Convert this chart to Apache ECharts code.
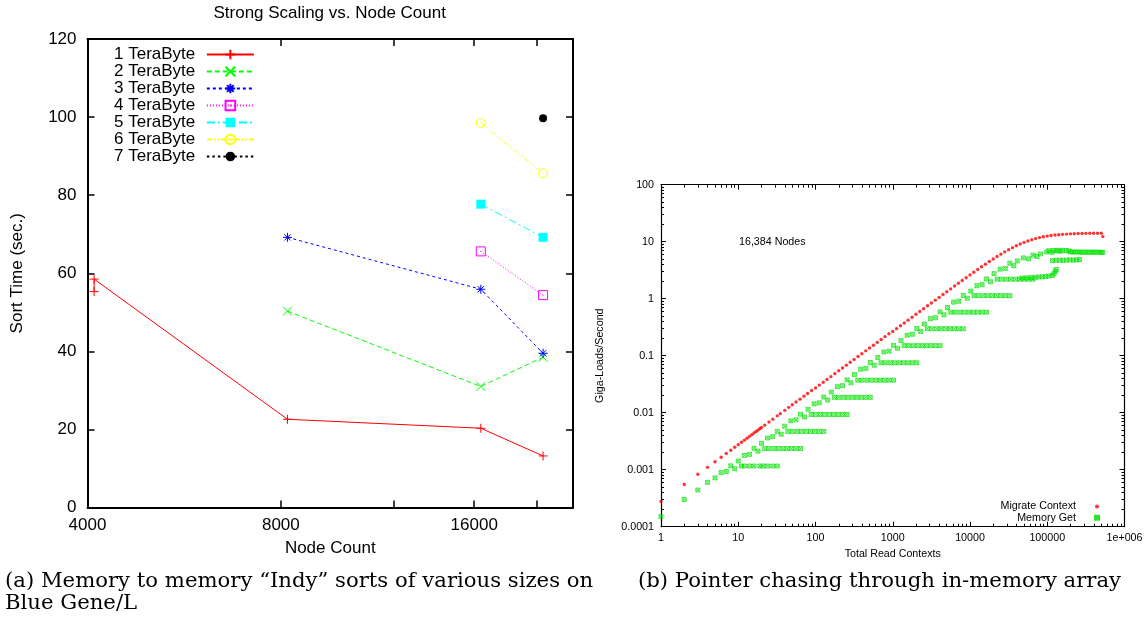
<!DOCTYPE html>
<html>
<head>
<meta charset="utf-8">
<script src="https://cdn.jsdelivr.net/npm/echarts@6/dist/echarts.min.js"></script>
<style>
html, body { margin: 0; padding: 0; background: #fff; }
#main { width: 1145px; height: 621px; }
</style>
</head>
<body>
<div id="main"></div>
<script>
// (a) sort time per data size, node counts on a base-2 scale
var sizeNames = ["1 TeraByte", "2 TeraByte", "3 TeraByte", "4 TeraByte", "5 TeraByte", "6 TeraByte", "7 TeraByte"];
var runNodes = [
    [4096, 4096, 8192, 16384, 20480],
    [8192, 16384, 20480],
    [8192, 16384, 20480],
    [16384, 20480],
    [16384, 20480],
    [16384, 20480],
    [20480]
];
var runTimes = [
    [55.3, 58.5, 22.6, 20.3, 13.2],
    [50.3, 31.0, 38.5],
    [69.2, 55.9, 39.5],
    [65.6, 54.4],
    [77.7, 69.2],
    [98.5, 85.6],
    [99.7]
];
var nodeMin = 4000, nodeMax = 22800;
var nodeTicks = [8000, 12000, 16000, 20000];
var nodeLabels = [4000, 8000, 16000];

// (b) pointer chasing, 16,384 nodes
var migrateContext = [
    [1, 0.000276], [2, 0.00055], [3, 0.00083], [4, 0.0011], [5, 0.00138], [6, 0.00165], [7, 0.00193], [8, 0.0022], [9, 0.00248], [10, 0.00275],
    [11, 0.00303], [12, 0.0033], [13, 0.00358], [14, 0.00385], [15, 0.00413], [16, 0.0044], [17, 0.00468], [18, 0.00495], [19, 0.00523], [20, 0.0055],
    [22, 0.00605], [25, 0.00688], [28, 0.0077], [32, 0.0088], [35, 0.00963], [40, 0.011], [45, 0.0124], [50, 0.01375], [56, 0.0154], [63, 0.0173],
    [71, 0.0195], [79, 0.0217], [89, 0.0245],
    [100, 0.0272], [112, 0.0305], [126, 0.0343], [141, 0.0384], [158, 0.043], [178, 0.0484], [200, 0.0544], [224, 0.0609], [251, 0.0683], [282, 0.0767],
    [316, 0.086], [355, 0.0966], [398, 0.1083], [447, 0.1216], [501, 0.1363], [562, 0.1529], [631, 0.1716], [708, 0.1926], [794, 0.216], [891, 0.2424],
    [1000, 0.267], [1120, 0.298], [1260, 0.335], [1410, 0.375], [1580, 0.42], [1780, 0.473], [2000, 0.532], [2240, 0.596], [2510, 0.668], [2820, 0.75],
    [3160, 0.84], [3550, 0.944], [3980, 1.054], [4470, 1.184], [5010, 1.327], [5620, 1.487], [6310, 1.666], [7080, 1.867], [7940, 2.089], [8910, 2.338],
    [10000, 2.614], [11200, 2.915], [12600, 3.262], [14100, 3.627], [15800, 4.03], [17800, 4.492], [20000, 4.982], [22400, 5.494], [25100, 6.043], [28200, 6.632],
    [31600, 7.234], [35500, 7.863], [39800, 8.487], [44700, 9.116], [50100, 9.719], [56200, 10.3], [63100, 10.84], [70800, 11.34], [79400, 11.79], [89100, 12.18],
    [100000, 12.53], [112000, 12.82], [126000, 13.08], [141000, 13.28], [158000, 13.45], [178000, 13.6], [200000, 13.72], [224000, 13.81], [251000, 13.89], [282000, 13.95],
    [316000, 14.0], [355000, 14.04], [398000, 14.07], [447000, 14.1], [501000, 14.1], [524288, 12.3]
];
var memoryGet = [
    [1, 0.00015], [2, 0.0003], [3, 0.00044], [4, 0.0006],
    [5, 0.00072], [6, 0.00089], [7, 0.00093], [8, 0.00117], [9, 0.00104],
    [11, 0.00116], [12, 0.00116], [14, 0.00116], [16, 0.00116], [19, 0.00116], [21, 0.00116], [24, 0.00116], [28, 0.00116], [32, 0.00116],
    [10, 0.00142], [12, 0.00178], [14, 0.00186], [16, 0.00237], [18, 0.00212],
    [22, 0.00235], [25, 0.00235], [29, 0.00235], [33, 0.00235], [38, 0.00235], [43, 0.00235], [49, 0.00235], [56, 0.00235], [64, 0.00235],
    [20, 0.0029], [24, 0.0036], [28, 0.0038], [32, 0.0047], [36, 0.0042],
    [44, 0.0047], [50, 0.0047], [58, 0.0047], [66, 0.0047], [76, 0.0047], [86, 0.0047], [98, 0.0047], [112, 0.0047], [128, 0.0047],
    [40, 0.0058], [48, 0.0072], [56, 0.0075], [64, 0.0094], [72, 0.0084],
    [88, 0.0093], [100, 0.0093], [116, 0.0093], [132, 0.0093], [152, 0.0093], [172, 0.0093], [196, 0.0093], [224, 0.0093], [256, 0.0093],
    [80, 0.0115], [96, 0.0143], [112, 0.0149], [128, 0.0188], [144, 0.0167],
    [176, 0.0186], [200, 0.0186], [232, 0.0186], [264, 0.0186], [304, 0.0186], [344, 0.0186], [392, 0.0186], [448, 0.0186], [512, 0.0186],
    [160, 0.023], [192, 0.0286], [224, 0.0298], [256, 0.0376], [288, 0.0335],
    [352, 0.0372], [400, 0.0372], [464, 0.0372], [528, 0.0372], [608, 0.0372], [688, 0.0372], [784, 0.0372], [896, 0.0372], [1024, 0.0372],
    [320, 0.0466], [384, 0.058], [448, 0.06], [512, 0.076], [576, 0.068],
    [704, 0.0752], [800, 0.0752], [928, 0.0752], [1056, 0.0752], [1216, 0.0752], [1376, 0.0752], [1568, 0.0752], [1792, 0.0752], [2048, 0.0752],
    [640, 0.093], [768, 0.116], [896, 0.12], [1024, 0.152], [1152, 0.135],
    [1408, 0.15], [1600, 0.15], [1856, 0.15], [2112, 0.15], [2432, 0.15], [2752, 0.15], [3136, 0.15], [3584, 0.15], [4096, 0.15],
    [1280, 0.184], [1536, 0.229], [1792, 0.238], [2048, 0.3], [2304, 0.267],
    [2816, 0.297], [3200, 0.297], [3712, 0.297], [4224, 0.297], [4864, 0.297], [5504, 0.297], [6272, 0.297], [7168, 0.297], [8192, 0.297],
    [2560, 0.36], [3072, 0.447], [3584, 0.464], [4096, 0.586], [4608, 0.522],
    [5632, 0.58], [6400, 0.58], [7424, 0.58], [8448, 0.58], [9728, 0.58], [11008, 0.58], [12544, 0.58], [14336, 0.58], [16384, 0.58],
    [5120, 0.7], [6144, 0.87], [7168, 0.9], [8192, 1.14], [9216, 1.02],
    [11264, 1.13], [12800, 1.13], [14848, 1.13], [16896, 1.13], [19456, 1.13], [22016, 1.13], [25088, 1.13], [28672, 1.13], [32768, 1.13],
    [10240, 1.36], [12288, 1.69], [14336, 1.76], [16384, 2.22], [18432, 1.98],
    [22528, 2.2], [25600, 2.2], [29696, 2.2], [33792, 2.2], [38912, 2.2], [44032, 2.2], [50176, 2.2], [57344, 2.2], [65536, 2.2],
    [20480, 2.75], [24576, 3.3], [28672, 3.4], [32768, 4.2], [36864, 3.8],
    [47000, 2.3], [54000, 2.32], [62000, 2.35], [70000, 2.38], [78000, 2.4], [86000, 2.42], [95000, 2.45], [105000, 2.5], [116000, 2.55],
    [122000, 2.75], [127000, 3.0], [131072, 3.25],
    [40960, 4.6], [49152, 5.2], [57344, 5.0], [65536, 5.8], [73728, 5.5],
    [117000, 4.65], [130000, 4.7], [145000, 4.75], [160000, 4.7], [178000, 4.75], [197000, 4.8], [218000, 4.75], [240000, 4.8], [262144, 4.85],
    [81920, 6.1], [98304, 6.6], [114688, 6.5], [131072, 6.9], [147456, 6.8],
    [105000, 6.95], [120000, 7.0], [138000, 7.05], [158000, 7.05], [175000, 7.0], [190000, 6.9],
    [200000, 6.6], [215000, 6.6], [230000, 6.6], [247000, 6.6], [265000, 6.55], [285000, 6.55], [305000, 6.55], [328000, 6.55], [352000, 6.55],
    [378000, 6.55], [405000, 6.55], [435000, 6.55], [467000, 6.55], [500000, 6.5], [524288, 6.5]
];
var minorSteps = [2, 3, 4, 5, 6, 7, 8, 9];

// styles
var sizeColors = ["#ff0000", "#00ff00", "#0000ff", "#ff00ff", "#00ffff", "#ffff00", "#000000"];
var sizeDash = ["solid", [5, 3], [3, 3], [1, 2], [8, 3, 2, 3], [5, 2, 1.5, 2, 1.5, 2], [2.5, 3]];
var sizeSymbols = [
    "path://M0,5L10,5M5,0L5,10",
    "path://M0,0L10,10M10,0L0,10",
    "path://M0,5L10,5M5,0L5,10M1.5,1.5L8.5,8.5M8.5,1.5L1.5,8.5",
    "path://M0,0L10,0L10,10L0,10ZM4.5,5L5.5,5",
    "rect",
    "path://M10,5A5,5,0,1,1,0,5A5,5,0,1,1,10,5ZM4.5,5L5.5,5",
    "circle"
];
var sizeFilled = [false, false, false, false, true, false, true];

var sans = "Liberation Sans";
var fsA = 17, fsB = 10.7;
function log2(v) { return Math.log(v) / Math.LN2; }
function minorExponents(lo, hi) {
    var out = [];
    for (var d = lo; d < hi; d++) {
        minorSteps.forEach(function (m) { out.push(d + Math.log10(m)); });
    }
    return out;
}

var myChart = echarts.init(document.getElementById("main"));

var seriesList = sizeNames.map(function (name, i) {
    return {
        name: name,
        type: "line",
        xAxisIndex: 0,
        yAxisIndex: 0,
        data: runNodes[i].map(function (n, j) { return [log2(n), runTimes[i][j]]; }),
        symbol: sizeSymbols[i],
        symbolSize: i === 6 ? 8 : 9,
        showAllSymbol: true,
        lineStyle: { color: sizeColors[i], width: 1, type: sizeDash[i] },
        itemStyle: {
            color: sizeFilled[i] ? sizeColors[i] : "rgba(0,0,0,0)",
            borderColor: sizeColors[i],
            borderWidth: sizeFilled[i] ? 0 : 1
        },
        emphasis: { disabled: true },
        z: 3
    };
});
seriesList.push({
    name: "Migrate Context",
    type: "scatter",
    xAxisIndex: 2,
    yAxisIndex: 2,
    data: migrateContext,
    symbol: "circle",
    symbolSize: 3.4,
    itemStyle: { color: "#ff0000" },
    z: 4
});
seriesList.push({
    name: "Memory Get",
    type: "scatter",
    xAxisIndex: 2,
    yAxisIndex: 2,
    data: memoryGet,
    symbol: "path://M0,0L10,0L10,10L0,10ZM0,0L10,10M10,0L0,10",
    symbolSize: 4,
    itemStyle: { color: "rgba(0,255,0,0.3)", borderColor: "#00dd00", borderWidth: 0.8 },
    z: 3
});

function frameAxis(extra) {
    var base = {
        axisLine: { show: true, onZero: false, lineStyle: { color: "#000", width: 2 } },
        splitLine: { show: false },
        axisLabel: { show: false }
    };
    return Object.assign(base, extra);
}
function minorAxis(extra) {
    var base = {
        gridIndex: 1, type: "value",
        axisLine: { show: false, onZero: false },
        axisLabel: { show: false },
        splitLine: { show: false }
    };
    return Object.assign(base, extra);
}
var lineB = { show: true, onZero: false, lineStyle: { color: "#000", width: 1.2 } };
var tickB = { show: true, inside: true, length: 5, lineStyle: { color: "#000", width: 1 } };
var tickA = { show: true, inside: true, length: 7, lineStyle: { color: "#000", width: 1.5 } };
var minorTickStyle = { show: true, inside: true, length: 3, lineStyle: { color: "#000", width: 1 } };

var option = {
    animation: false,
    grid: [
        { left: 87.5, top: 39, width: 485.5, height: 468.5, outerBoundsMode: "none" },
        { left: 661, top: 184.7, width: 463.5, height: 342, outerBoundsMode: "none" }
    ],
    legend: [
        {
            data: sizeNames,
            orient: "vertical",
            align: "right",
            left: 114,
            top: 46,
            padding: 0,
            itemWidth: 47,
            itemHeight: 12,
            itemGap: 0,
            selectedMode: false,
            textStyle: { fontFamily: sans, fontSize: fsA, color: "#000", lineHeight: 16.67, padding: [0, 6.6, 0, 0] }
        },
        {
            data: ["Migrate Context", "Memory Get"],
            orient: "vertical",
            align: "right",
            right: 45,
            top: 500.8,
            padding: 0,
            itemWidth: 32,
            itemHeight: 4,
            itemGap: 0,
            selectedMode: false,
            textStyle: { fontFamily: sans, fontSize: fsB, color: "#000", lineHeight: 11.3 }
        }
    ],
    xAxis: [
        frameAxis({
            gridIndex: 0, type: "value", position: "bottom",
            min: log2(nodeMin), max: log2(nodeMax),
            axisTick: Object.assign({ customValues: nodeTicks.map(log2) }, tickA),
            axisLabel: {
                show: true, customValues: nodeLabels.map(log2),
                formatter: function (v) { return String(Math.round(Math.pow(2, v))); },
                fontFamily: sans, fontSize: fsA, color: "#000", margin: 9
            },
            name: "Node Count", nameLocation: "middle", nameGap: 32,
            nameTextStyle: { fontFamily: sans, fontSize: fsA, color: "#000" }
        }),
        frameAxis({
            gridIndex: 0, type: "value", position: "top",
            min: log2(nodeMin), max: log2(nodeMax),
            axisTick: Object.assign({ customValues: nodeTicks.map(log2) }, tickA)
        }),
        frameAxis({
            gridIndex: 1, type: "log", logBase: 10, position: "bottom", min: 1, max: 1000000,
            axisLine: lineB, axisTick: tickB,
            axisLabel: {
                show: true,
                formatter: function (v) { return v >= 1000000 ? "1e+006" : String(v); },
                fontFamily: sans, fontSize: fsB, color: "#000", margin: 6
            },
            name: "Total Read Contexts", nameLocation: "middle", nameGap: 21,
            nameTextStyle: { fontFamily: sans, fontSize: fsB, color: "#000" }
        }),
        frameAxis({
            gridIndex: 1, type: "log", logBase: 10, position: "top", min: 1, max: 1000000,
            axisLine: lineB, axisTick: tickB
        }),
        minorAxis({
            position: "bottom", min: 0, max: 6,
            axisTick: Object.assign({ customValues: minorExponents(0, 6) }, minorTickStyle)
        }),
        minorAxis({
            position: "top", min: 0, max: 6,
            axisTick: Object.assign({ customValues: minorExponents(0, 6) }, minorTickStyle)
        })
    ],
    yAxis: [
        frameAxis({
            gridIndex: 0, type: "value", position: "left", min: 0, max: 120, interval: 20,
            axisTick: tickA,
            axisLabel: { show: true, fontFamily: sans, fontSize: fsA, color: "#000", margin: 11 },
            name: "Sort Time (sec.)", nameLocation: "middle", nameGap: 62, nameRotate: 90,
            nameTextStyle: { fontFamily: sans, fontSize: fsA, color: "#000" }
        }),
        frameAxis({
            gridIndex: 0, type: "value", position: "right", min: 0, max: 120, interval: 20,
            axisTick: tickA
        }),
        frameAxis({
            gridIndex: 1, type: "log", logBase: 10, position: "left", min: 0.0001, max: 100,
            axisLine: lineB, axisTick: tickB,
            axisLabel: {
                show: true,
                formatter: function (v) { return String(v); },
                fontFamily: sans, fontSize: fsB, color: "#000", margin: 7
            },
            name: "Giga-Loads/Second", nameLocation: "middle", nameGap: 55, nameRotate: 90,
            nameTextStyle: { fontFamily: sans, fontSize: fsB, color: "#000" }
        }),
        frameAxis({
            gridIndex: 1, type: "log", logBase: 10, position: "right", min: 0.0001, max: 100,
            axisLine: lineB, axisTick: tickB
        }),
        minorAxis({
            position: "left", min: -4, max: 2,
            axisTick: Object.assign({ customValues: minorExponents(-4, 2) }, minorTickStyle)
        }),
        minorAxis({
            position: "right", min: -4, max: 2,
            axisTick: Object.assign({ customValues: minorExponents(-4, 2) }, minorTickStyle)
        })
    ],
    graphic: [
        { type: "text", x: 329.7, y: 13.5, style: { text: "Strong Scaling vs. Node Count", font: fsA + "px 'Liberation Sans'", fill: "#000", align: "center", verticalAlign: "middle" } },
        { type: "text", x: 739, y: 242.3, style: { text: "16,384 Nodes", font: fsB + "px 'Liberation Sans'", fill: "#000", align: "left", verticalAlign: "middle" } },
        { type: "text", x: 5, y: 581, style: { text: "(a) Memory to memory \u201cIndy\u201d sorts of various sizes on", font: "21.2px 'DejaVu Serif'", fill: "#000", align: "left", verticalAlign: "middle" } },
        { type: "text", x: 5, y: 603, style: { text: "Blue Gene/L", font: "21.2px 'DejaVu Serif'", fill: "#000", align: "left", verticalAlign: "middle" } },
        { type: "text", x: 638, y: 581, style: { text: "(b) Pointer chasing through in-memory array", font: "21.2px 'DejaVu Serif'", fill: "#000", align: "left", verticalAlign: "middle" } }
    ],
    series: seriesList
};

myChart.setOption(option);
</script>
</body>
</html>
